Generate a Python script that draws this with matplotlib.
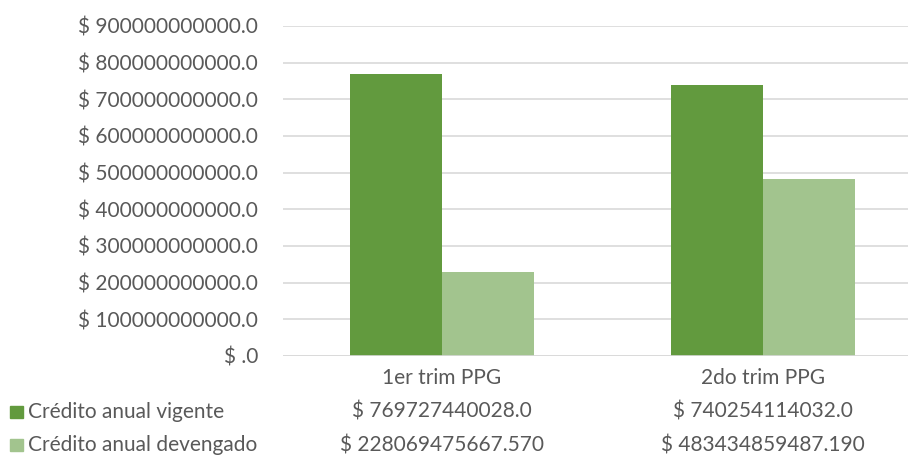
import matplotlib.pyplot as plt
from matplotlib.patches import Rectangle
from matplotlib.ticker import FuncFormatter, MultipleLocator

categories = ['1er trim PPG', '2do trim PPG']
series_names = ['Crédito anual vigente', 'Crédito anual devengado']
vigente = [769727440028.0, 740254114032.0]
devengado = [228069475667.570, 483434859487.190]
vigente_txt = ['$ 769727440028.0', '$ 740254114032.0']
devengado_txt = ['$ 228069475667.570', '$ 483434859487.190']

dark = '#629A3E'
light = '#A2C48E'
grey = '#595959'
grid = '#D9D9D9'
fs = 15

plt.rcParams['font.family'] = ['Lato', 'DejaVu Sans']

W, H = 910, 459
fig = plt.figure(figsize=(W / 100, H / 100), dpi=100)
ax = fig.add_axes([283 / W, (H - 356) / H, 625 / W, 330 / H])

x = [0, 1]
bw = 0.287
ax.bar([i - bw / 2 for i in x], vigente, width=bw, color=dark, zorder=3)
ax.bar([i + bw / 2 for i in x], devengado, width=bw, color=light, zorder=3)

ax.set_xlim(-159 / 321, 466 / 321)
ax.set_ylim(0, 900e9)
ax.yaxis.set_major_locator(MultipleLocator(100e9))


def money(v, pos):
    if v == 0:
        return '$ .0'
    return f'$ {v:.1f}'


ax.yaxis.set_major_formatter(FuncFormatter(money))
ax.grid(axis='y', color=grid, linewidth=1.2, zorder=0)
for s in ['top', 'right', 'left', 'bottom']:
    ax.spines[s].set_visible(False)
ax.axhline(0, color=grid, linewidth=1.2, zorder=4)
ax.tick_params(axis='y', length=0, pad=18, labelsize=fs, labelcolor=grey)
ax.set_xticks([])

# data table below the chart
for i, cat in enumerate(categories):
    xc = ax.transData.transform((x[i], 0))[0] / W
    fig.text(xc, 1 - 378 / H, cat, ha='center', va='center', fontsize=fs, color=grey)
    fig.text(xc, 1 - 412 / H, vigente_txt[i], ha='center', va='center', fontsize=fs, color=grey)
    fig.text(xc, 1 - 445 / H, devengado_txt[i], ha='center', va='center', fontsize=fs, color=grey)

for row_y, name, col in [(412, series_names[0], dark), (445, series_names[1], light)]:
    fig.patches.append(Rectangle((10 / W, 1 - (row_y + 6) / H), 13 / W, 12 / H,
                                 transform=fig.transFigure, color=col))
    fig.text(28 / W, 1 - row_y / H, name, ha='left', va='center', fontsize=fs, color=grey)

fig.savefig('out.png', dpi=100)
